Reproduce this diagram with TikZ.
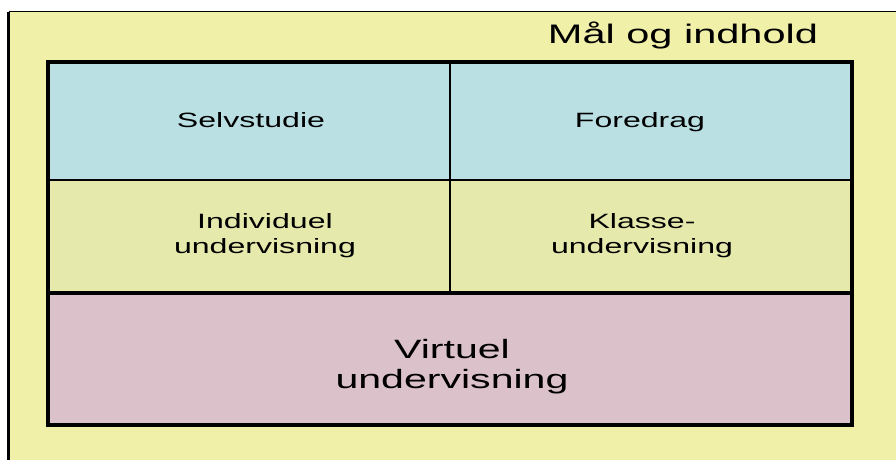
\documentclass[tikz,border=0pt]{standalone}
\usepackage{fontspec}
\setmainfont{Liberation Sans}
\usepackage{graphicx}
\definecolor{outerY}{RGB}{240,240,168}
\definecolor{cellY}{RGB}{229,233,171}
\definecolor{cellB}{RGB}{186,224,228}
\definecolor{cellP}{RGB}{219,194,202}
\newcommand\wtext[3]{\scalebox{1.55}[1]{\fontsize{#1}{#2}\selectfont\begin{tabular}[b]{@{}c@{}}#3\end{tabular}}}
\begin{document}
\begin{tikzpicture}[x=1pt,y=-1pt,
  txt/.style={inner sep=0pt, anchor=base, text=black}]
\useasboundingbox (0,0) rectangle (896,459);
\fill[white] (0,0) rectangle (896,459);
% outer frame
\fill[outerY] (8.5,11.5) rectangle (900,462);
\draw[line width=3pt] (8.5,462) -- (8.5,11.5);
\draw[line width=1.5pt] (8.5,11.5) -- (900,11.5);
% cells
\fill[cellB] (48,62) rectangle (852,180);
\fill[cellY] (48,180) rectangle (852,292);
\fill[cellP] (48,292) rectangle (852,425);
\draw[line width=1.5pt] (48,180) -- (852,180);
\draw[line width=2pt] (450,62) -- (450,292);
\draw[line width=4pt] (48,292.5) -- (852,292.5);
\draw[line width=3.5pt] (48,62) rectangle (852,425);
% texts
\node[txt] (title) at (683,43) {\wtext{26.8pt}{32pt}{Mål og indhold}};
\node[txt] (selv) at (251,127) {\wtext{20.7pt}{25pt}{Selvstudie}};
\node[txt] (fore) at (640,127) {\wtext{20.7pt}{25pt}{Foredrag}};
\node[txt] (indiv) at (265,253) {\wtext{20.7pt}{25pt}{Individuel\\undervisning}};
\node[txt] (klasse) at (642,253) {\wtext{20.7pt}{25pt}{Klasse-\\undervisning}};
\node[txt] (virt) at (452,388) {\wtext{26.5pt}{30pt}{Virtuel\\undervisning}};
\end{tikzpicture}
\end{document}
